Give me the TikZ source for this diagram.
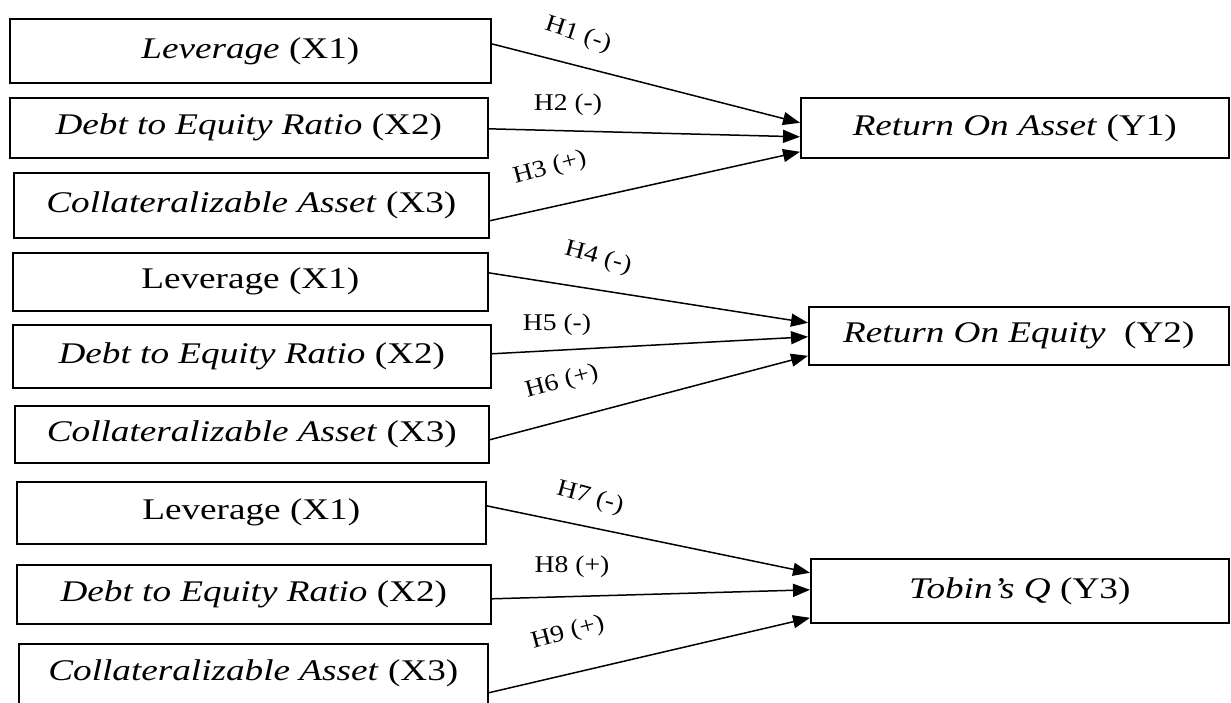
\documentclass[tikz,border=0pt]{standalone}
\usepackage{fontspec}
\setmainfont{Liberation Serif}
\newfontfamily\boxfont{Liberation Serif}[FakeStretch=1.24]
\newfontfamily\labfont{Liberation Serif}[FakeStretch=1.15]
\usetikzlibrary{arrows.meta}
\tikzset{
  vbox/.style={draw, line width=1.6pt, anchor=north west, inner sep=0pt,
    font=\boxfont\fontsize{30}{36}\selectfont},
  hyp/.style={font=\labfont\fontsize{24}{28}\selectfont, inner sep=0pt},
  link/.style={line width=1.5pt, -{Triangle[length=17pt,width=13pt]}}
}
\begin{document}
\begin{tikzpicture}[x=1pt,y=-1pt]
\useasboundingbox (0,0) rectangle (1231,702);
% group 1
\node[vbox, minimum width=481pt, minimum height=64pt] (X11) at (9,18) {\textit{Leverage} (X1)};
\node[vbox, minimum width=478pt, minimum height=60pt] (X21) at (9,97) {\textit{Debt to Equity Ratio} (X2)};
\node[vbox, minimum width=475pt, minimum height=65pt] (X31) at (13,172) {\textit{Collateralizable Asset} (X3)};
\node[vbox, minimum width=428pt, minimum height=60pt] (Y1) at (800,97) {\textit{Return On Asset} (Y1)};
% group 2
\node[vbox, minimum width=475pt, minimum height=58pt] (X12) at (12,252) {Leverage (X1)};
\node[vbox, minimum width=478pt, minimum height=63pt] (X22) at (12,324) {\textit{Debt to Equity Ratio} (X2)};
\node[vbox, minimum width=474pt, minimum height=57pt] (X32) at (14,405) {\textit{Collateralizable Asset} (X3)};
\node[vbox, minimum width=420pt, minimum height=58pt] (Y2) at (808,306) {\textit{Return On Equity}\ \ (Y2)};
% group 3
\node[vbox, minimum width=469pt, minimum height=62pt] (X13) at (16,481) {Leverage (X1)};
\node[vbox, minimum width=474pt, minimum height=59pt] (X23) at (16,564) {\textit{Debt to Equity Ratio} (X2)};
\node[vbox, minimum width=469pt, minimum height=66pt, text depth=14pt] (X33) at (18,643) {\textit{Collateralizable Asset} (X3)};
\node[vbox, minimum width=418pt, minimum height=64pt] (Y3) at (810,558) {\textit{Tobin’s Q} (Y3)};
% connectors
\draw[link] ([yshift=7pt]X11.east) -- ([yshift=5pt]Y1.west);
\draw[link] ([yshift=-1pt]X21.east) -- ([yshift=-9pt]Y1.west);
\draw[link] ([yshift=-15.5pt]X31.east) -- ([yshift=-24pt]Y1.west);
\draw[link] ([yshift=9pt]X12.east) -- ([yshift=13pt]Y2.west);
\draw[link] ([yshift=2.5pt]X22.east) -- ([yshift=-1pt]Y2.west);
\draw[link] ([yshift=-5.5pt]X32.east) -- ([yshift=-20pt]Y2.west);
\draw[link] ([yshift=7pt]X13.east) -- ([yshift=18pt]Y3.west);
\draw[link] ([yshift=-4.5pt]X23.east) -- ([yshift=1pt]Y3.west);
\draw[link] ([yshift=-16pt]X33.east) -- ([yshift=-27pt]Y3.west);
% labels
\node[hyp, rotate=-18] (h1) at (578,35) {H1 (-)};
\node[hyp] (h2) at (568,105) {H2 (-)};
\node[hyp, rotate=15] (h3) at (550,168) {H3 (+)};
\node[hyp, rotate=-15] (h4) at (598,258) {H4 (-)};
\node[hyp] (h5) at (557,325) {H5 (-)};
\node[hyp, rotate=15] (h6) at (562,382) {H6 (+)};
\node[hyp, rotate=-15] (h7) at (590,498) {H7 (-)};
\node[hyp] (h8) at (572,567) {H8 (+)};
\node[hyp, rotate=15] (h9) at (568,633) {H9 (+)};
\end{tikzpicture}
\end{document}
